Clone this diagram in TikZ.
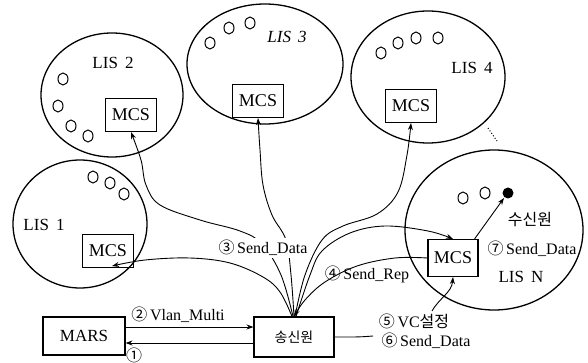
\documentclass[tikz,border=0pt]{standalone}
\usepackage{fontspec}
\setmainfont{Liberation Serif}
\newfontfamily\tms{Liberation Serif}
\newfontfamily\kr{Noto Sans CJK KR}
\usetikzlibrary{arrows.meta}
\begin{document}
\begin{tikzpicture}[x=1pt,y=-1pt,line width=0.9pt,
  lis/.style={draw,line width=1.3pt},
  mcs/.style={draw,line width=1.1pt,minimum width=51pt,minimum height=33pt,inner sep=0pt,font=\tms\fontsize{18}{18}\selectfont},
  bigbox/.style={draw,line width=1.1pt,inner sep=0pt,font=\tms\fontsize{17}{17}\selectfont},
  lbl/.style={inner sep=1pt,font=\tms\fontsize{16}{16}\selectfont},
  wlbl/.style={lbl,fill=white,inner sep=2pt},
  lisname/.style={inner sep=0pt,font=\tms\fontsize{17}{17}\selectfont},
  host/.style={line width=1pt},
  arr/.style={-{Stealth[length=7pt,width=5pt]},line width=0.9pt},
  crv/.style={line width=0.9pt}
]
\useasboundingbox (0,0) rectangle (588,363);
% LIS ellipses
\draw[lis] (112,95) ellipse [x radius=71,y radius=62];
\draw[lis] (265,64) ellipse [x radius=78,y radius=60];
\draw[lis] (428,77) ellipse [x radius=77,y radius=66];
\draw[lis] (80,224) ellipse [x radius=67,y radius=64];
\draw[lis] (494,230) ellipse [x radius=89,y radius=80];
% hosts
\foreach \p in {(63,79),(58,106),(71,126),(88,136),(210,43),(229,28),(250,23),(381,53),(398,43),(416,38),(438,38),(93,177),(110,183),(124,194),(463,198),(485,193)}
  \draw[host] \p ellipse [x radius=5,y radius=6];
\fill (508,193) circle [radius=5.5];
\draw[line width=1pt,dotted] (488,128) -- (497,141);
% LIS names
\node[lisname] (n2) at (113,63) {LIS\, 2};
\node[lisname] (n3) at (287,37) {\itshape LIS\, 3};
\node[lisname] (n4) at (472,68) {LIS\, 4};
\node[lisname] (n1) at (44,225) {LIS\, 1};
\node[lisname] (nN) at (521,277) {LIS\, N};
\node[lbl] (rcv) at (530,220) {\kr 수신원};
% boxes
\node[mcs] (m2) at (131,115) {MCS};
\node[mcs] (m3) at (258,101) {MCS};
\node[mcs] (m4) at (411,106) {MCS};
\node[mcs] (m1) at (108,251) {MCS};
\node[mcs,minimum width=50pt,minimum height=37pt] (mN) at (453,258) {MCS};
\node[bigbox,minimum width=82pt,minimum height=38pt] (mars) at (84,336) {MARS};
\node[bigbox,minimum width=80pt,minimum height=40pt,font=\kr\fontsize{14}{14}\selectfont] (send) at (294,337) {송신원};
\coordinate (m1in) at ([xshift=4pt,yshift=2pt]m1.south);
% curves from sender
\draw[arr] plot[smooth,tension=0.6] coordinates {([xshift=-1pt]send.north) (281,275) (262,244) (240,231) (200,220) (160,205) (146,185) (141,160) (m2.south)};
\draw[arr] plot[smooth,tension=0.6] coordinates {(send.north) (291,275) (286,240) (272,215) (263,185) (260,150) (m3.south)};
\draw[arr] plot[smooth,tension=0.6] coordinates {([xshift=1pt]send.north) (305,275) (322,240) (343,226) (377,214) (398,192) (407,155) (m4.south)};
\draw[arr] plot[smooth,tension=0.6] coordinates {([xshift=2pt]send.north) (310,275) (322,251) (350,233) (385,226) (428,231) (mN.north)};
\draw[arr] plot[smooth,tension=0.6] coordinates {([xshift=-2pt]send.north) (280,292) (263,277) (230,263) (190,258) (145,260) (m1in)};
\draw[arr] plot[smooth,tension=0.6] coordinates {(mN.west) (395,258) (357,266) (325,282) (305,300) (send.north)};
% label over curves
\node[wlbl] (l3) at (263,248) {{\kr ③}\,Send\_Data};
\node[lbl] (l4) at (367,274) {{\kr ④}\,Send\_Rep};
% MARS <-> sender
\draw[arr] ([yshift=9pt]mars.east) -- ([yshift=10pt]send.west);
\draw[arr] ([yshift=-6pt]send.west) -- ([yshift=-7pt]mars.east);
\node[lbl] (l2) at (178,315) {{\kr ②}\,Vlan\_Multi};
\node[lbl] (l1) at (134,355) {\kr ①};
% sender -> LIS N MCS
\node[lbl] (l5) at (414,321) {{\kr ⑤}\,VC{\kr 설정}};
\node[lbl] (l6) at (426,341) {{\kr ⑥}\,Send\_Data};
\coordinate (s6) at (373,336);
\draw[crv] (send.east) to[out=0,in=185] (s6);
\coordinate (s5) at (432,311);
\draw[arr] (s5) to[out=60,in=-95] (mN.south);
% receiver
\coordinate (dot) at (504,198);
\draw[arr] ([xshift=-4pt]mN.north east) -- (dot);
\node[lbl] (l7) at (532,249) {{\kr ⑦}\,Send\_Data};
\end{tikzpicture}
\end{document}
